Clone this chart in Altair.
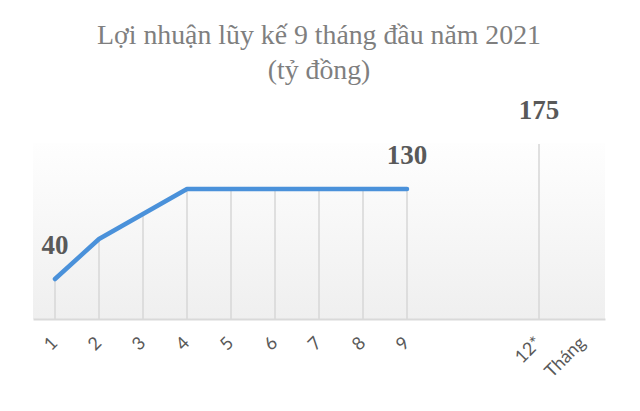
import altair as alt
import pandas as pd

months = ["1", "2", "3", "4", "5", "6", "7", "8", "9", "12*"]
values = [40, 80, 105, 130, 130, 130, 130, 130, 130, 175]
label_months = ["1", "9", "12*"]
x_domain = ["1", "2", "3", "4", "5", "6", "7", "8", "9", "10", "11", "12*", "Tháng"]
title_lines = ["Lợi nhuận lũy kế 9 tháng đầu năm 2021", "(tỷ đồng)"]

df = pd.DataFrame({"month": months, "value": values})
df["label"] = [str(v) if m in label_months else "" for m, v in zip(months, values)]

W, H = 572, 230
BG_TOP = 176

x_enc = alt.X(
    "month:N",
    scale=alt.Scale(domain=x_domain, paddingInner=0, paddingOuter=0),
    axis=alt.Axis(
        title=None,
        ticks=False,
        grid=False,
        domainColor="#d9d9d9",
        domainWidth=2,
        labelAngle=-45,
        labelAlign="right",
        labelBaseline="middle",
        labelPadding=21,
        labelFont="Lato",
        labelFontSize=18,
        labelColor="#595959",
        labelExpr="datum.value == '10' || datum.value == '11' ? '' : datum.value",
        zindex=1,
    ),
)
y_scale = alt.Scale(domain=[0, H])

base = alt.Chart(df)

bg = alt.Chart(pd.DataFrame({"a": [0]})).mark_rect(
    color=alt.Gradient(
        gradient="linear",
        stops=[
            alt.GradientStop(color="#fefefe", offset=0),
            alt.GradientStop(color="#efefef", offset=1),
        ],
        x1=0, x2=0, y1=0, y2=1,
    )
).encode(
    x=alt.value(0),
    x2=alt.value(W),
    y=alt.value(H - BG_TOP),
    y2=alt.value(H),
)

drops = base.mark_rule(color="#d9d9d9", strokeWidth=1.6).encode(
    x=x_enc,
    y=alt.Y("value:Q", scale=y_scale, axis=None),
    y2=alt.datum(0),
)

line = base.transform_filter("datum.month != '12*'").mark_line(
    color="#4a91da", strokeWidth=4.5, strokeCap="round", strokeJoin="round"
).encode(
    x=x_enc,
    y=alt.Y("value:Q", scale=y_scale, axis=None),
)

labels = base.transform_filter("datum.label != ''").mark_text(
    font="Liberation Serif", fontSize=27, fontWeight="bold", color="#595959",
    baseline="alphabetic", dy=-25,
).encode(
    x=x_enc,
    y=alt.Y("value:Q", scale=y_scale, axis=None),
    text="label:N",
)

chart = alt.layer(bg, drops, line, labels).properties(
    width=W,
    height=H,
    autosize=alt.AutoSizeParams(type="none"),
    padding={"left": 25, "top": 81, "right": 27, "bottom": 84},
    title=alt.Title(
        text=title_lines,
        font="Liberation Serif",
        fontSize=27.8,
        fontWeight="normal",
        color="#7f7f7f",
        lineHeight=35,
        anchor="middle",
        baseline="bottom",
        offset=-24,
    ),
).configure(background="white").configure_view(stroke=None)

chart.save("out.html", embed_options={"renderer": "svg", "actions": False})
